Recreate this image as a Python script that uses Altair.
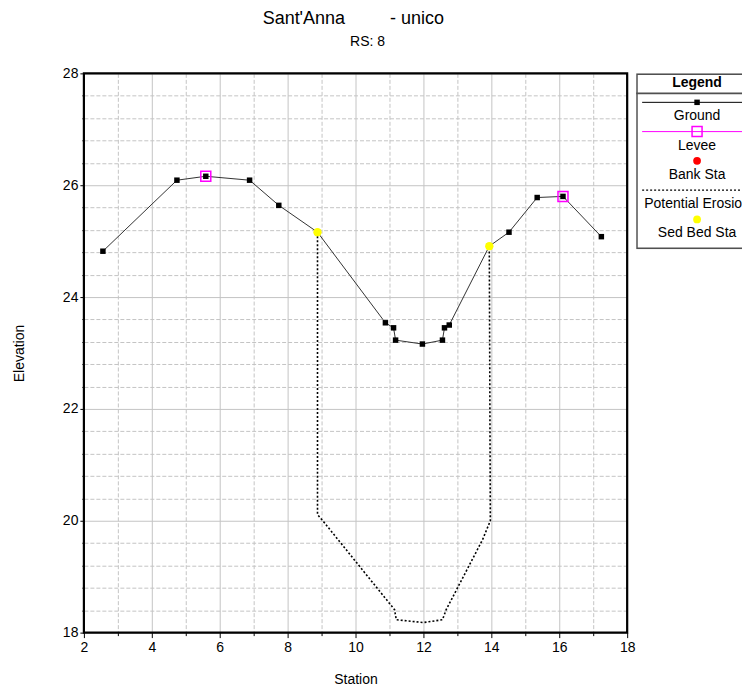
import altair as alt
import pandas as pd

# ---------------- data ----------------
ground_station = [2.56, 4.74, 5.59, 6.88, 7.74, 8.88, 10.88, 11.12, 11.18, 11.97,
                  12.56, 12.62, 12.76, 13.94, 14.52, 15.35, 16.11, 17.24]
ground_elev = [24.82, 26.09, 26.16, 26.09, 25.64, 25.16, 23.54, 23.45, 23.23, 23.16,
               23.23, 23.45, 23.50, 24.91, 25.16, 25.78, 25.80, 25.08]

levee_station = [5.59, 16.11]
levee_elev = [26.16, 25.80]

sed_station = [8.88, 13.94]
sed_elev = [25.16, 24.91]

erosion_station = [8.88, 8.88, 9.09, 11.15, 11.20, 12.00, 12.56, 12.67, 13.74, 13.97, 13.94]
erosion_elev = [25.16, 20.11, 19.96, 18.41, 18.23, 18.18, 18.23, 18.41, 19.66, 20.00, 24.91]

x_domain = [2, 18]
y_domain = [18, 28]
x_ticks = list(range(2, 19))
y_ticks = [round(18 + 0.4 * i, 1) for i in range(26)]

title_text = "Sant'Anna" + "\u00a0" * 9 + "- unico"
subtitle_text = "RS: 8"

legend_title = "Legend"
legend_labels = ["Ground", "Levee", "Bank Sta", "Potential Erosion", "Sed Bed Sta"]

# ---------------- tables ----------------
df_ground = pd.DataFrame({"station": ground_station, "elev": ground_elev})
df_levee = pd.DataFrame({"station": levee_station, "elev": levee_elev})
df_sed = pd.DataFrame({"station": sed_station, "elev": sed_elev})
df_erosion = pd.DataFrame({"station": erosion_station, "elev": erosion_elev,
                           "idx": list(range(len(erosion_station)))})
df_frame = pd.DataFrame({"station": [x_domain[0]], "station2": [x_domain[1]],
                         "elev": [y_domain[0]], "elev2": [y_domain[1]]})

FONT = "Liberation Sans"
GRID = "#c4c4c4"

x_enc = alt.X(
    "station:Q",
    scale=alt.Scale(domain=x_domain, nice=False, zero=False),
    axis=alt.Axis(
        title="Station", values=x_ticks,
        labelExpr="datum.value % 2 == 0 ? datum.label : ''",
        labelFontSize=14, labelColor="black", labelPadding=3,
        labelFlush=False, labelOverlap=False,
        tickColor="black", tickWidth=1,
        tickSize={"condition": {"test": "datum.value % 2 == 0", "value": 5}, "value": 3},
        domain=False, grid=True, gridColor=GRID, gridWidth=1,
        gridDash={"condition": {"test": "datum.value % 2 == 0", "value": []}, "value": [4, 2]},
        titleFontSize=14, titleFontWeight="normal", titleColor="black", titlePadding=18,
    ),
)

major_y = "abs(datum.value / 2 - round(datum.value / 2)) < 0.001"
y_enc = alt.Y(
    "elev:Q",
    scale=alt.Scale(domain=y_domain, nice=False, zero=False),
    axis=alt.Axis(
        title="Elevation", values=y_ticks,
        labelExpr=f"{major_y} ? format(datum.value, 'd') : ''",
        labelFontSize=14, labelColor="black", labelPadding=2,
        labelFlush=False, labelOverlap=False,
        tickColor="black", tickWidth=1,
        tickSize={"condition": {"test": major_y, "value": 4}, "value": 2},
        domain=False, grid=True, gridColor=GRID, gridWidth=1,
        gridDash={"condition": {"test": major_y, "value": []}, "value": [4, 2]},
        titleFontSize=14, titleFontWeight="normal", titleColor="black", titlePadding=36,
    ),
)

erosion = alt.Chart(df_erosion).mark_line(
    color="black", strokeDash=[2, 2], strokeWidth=1.6
).encode(x=x_enc, y=y_enc, order="idx:Q")

ground_line = alt.Chart(df_ground).mark_line(color="#333333", strokeWidth=1).encode(x=x_enc, y=y_enc)
ground_pts = alt.Chart(df_ground).mark_square(color="black", size=30, opacity=1).encode(x=x_enc, y=y_enc)
levee = alt.Chart(df_levee).mark_square(
    filled=False, color="#ff00ff", size=100, strokeWidth=1.5, opacity=1
).encode(x=x_enc, y=y_enc)
sed = alt.Chart(df_sed).mark_circle(color="#ffff00", size=70, opacity=1).encode(x=x_enc, y=y_enc)
frame = alt.Chart(df_frame).mark_rect(
    filled=False, stroke="black", strokeWidth=2.2
).encode(x=x_enc, x2="station2:Q", y=y_enc, y2="elev2:Q")

main = alt.layer(erosion, ground_line, ground_pts, levee, sed, frame).properties(
    width=544, height=560,
    title=alt.TitleParams(
        text=subtitle_text, anchor="middle", frame="group",
        fontSize=14, fontWeight="normal", color="black", font=FONT,
        offset=17, dx=12,
    ),
)

# ---------------- legend panel ----------------
LW, LH = 106, 176
row_sym = [29 + 29.3 * i for i in range(len(legend_labels))]
row_lab = [43 + 29.3 * i for i in range(len(legend_labels))]

lx = alt.Scale(domain=[0, LW], nice=False, zero=False)
ly = alt.Scale(domain=[LH, 0], nice=False, zero=False)


def X(f="x"):
    return alt.X(f"{f}:Q", scale=lx, axis=None)


def Y(f="y"):
    return alt.Y(f"{f}:Q", scale=ly, axis=None)


box = alt.Chart(pd.DataFrame({"x": [0.8], "x2": [170], "y": [0.8], "y2": [LH - 0.8]})).mark_rect(
    fill="white", stroke="#505050", strokeWidth=1.6, clip=True
).encode(x=X(), x2="x2:Q", y=Y(), y2="y2:Q")

sep = alt.Chart(pd.DataFrame({"x": [0], "x2": [170], "y": [20]})).mark_rule(
    color="#505050", strokeWidth=1.6, clip=True
).encode(x=X(), x2="x2:Q", y=Y())

head = alt.Chart(pd.DataFrame({"x": [61], "y": [10], "t": [legend_title]})).mark_text(
    fontSize=14, fontWeight="bold", color="black", font=FONT, align="center", baseline="middle", clip=True
).encode(x=X(), y=Y(), text="t:N")

labels = alt.Chart(pd.DataFrame({"x": [61] * 5, "y": row_lab, "t": legend_labels})).mark_text(
    fontSize=14, color="black", font=FONT, align="center", baseline="middle", clip=True
).encode(x=X(), y=Y(), text="t:N")

lg_ground = alt.Chart(pd.DataFrame({"x": [6], "x2": [170], "y": [row_sym[0]]})).mark_rule(
    color="black", strokeWidth=1, clip=True).encode(x=X(), x2="x2:Q", y=Y())
lg_ground_pt = alt.Chart(pd.DataFrame({"x": [61], "y": [row_sym[0]]})).mark_square(
    color="black", size=30, opacity=1).encode(x=X(), y=Y())
lg_levee = alt.Chart(pd.DataFrame({"x": [6], "x2": [170], "y": [row_sym[1]]})).mark_rule(
    color="#ff00ff", strokeWidth=1, clip=True).encode(x=X(), x2="x2:Q", y=Y())
lg_levee_pt = alt.Chart(pd.DataFrame({"x": [61], "y": [row_sym[1]]})).mark_square(
    filled=False, color="#ff00ff", size=100, strokeWidth=1.5, opacity=1).encode(x=X(), y=Y())
lg_bank = alt.Chart(pd.DataFrame({"x": [61], "y": [row_sym[2]]})).mark_circle(
    color="#ff0000", size=60, opacity=1).encode(x=X(), y=Y())
lg_eros = alt.Chart(pd.DataFrame({"x": [6], "x2": [170], "y": [row_sym[3]]})).mark_rule(
    color="black", strokeWidth=1.4, strokeDash=[2, 2], clip=True).encode(x=X(), x2="x2:Q", y=Y())
lg_sed = alt.Chart(pd.DataFrame({"x": [61], "y": [row_sym[4]]})).mark_circle(
    color="#ffff00", size=60, opacity=1).encode(x=X(), y=Y())

legend = alt.layer(box, sep, head, labels, lg_ground, lg_ground_pt, lg_levee, lg_levee_pt,
                   lg_bank, lg_eros, lg_sed).properties(width=LW, height=LH)

chart = alt.hconcat(main, legend, spacing=9, bounds="flush").properties(
    padding={"left": 3, "top": 1, "right": 0, "bottom": 0},
    title=alt.TitleParams(
        text=title_text, anchor="start", frame="group",
        fontSize=18, fontWeight="normal", color="black", font=FONT,
        offset=7, dx=179,
    ),
).configure(font=FONT).configure_view(stroke="transparent")

chart.save("out.html", embed_options={"renderer": "svg", "actions": False})
